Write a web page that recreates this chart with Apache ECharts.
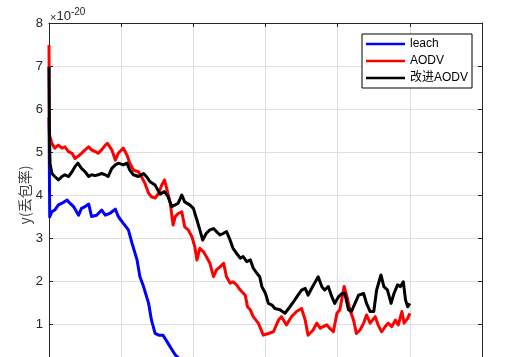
<!DOCTYPE html>
<html>
<head>
<meta charset="utf-8">
<script src="https://cdn.jsdelivr.net/npm/echarts@6/dist/echarts.min.js"></script>
<style>html,body{margin:0;padding:0;background:#fff;}#c{width:515px;height:357px;}</style>
</head>
<body>
<div id="c"></div>
<script>
var seriesNames = ['leach', 'AODV', '改进AODV'];
var yTicks = [0, 1, 2, 3, 4, 5, 6, 7, 8];
var leachData = [
  [0,5.8],[1,3.49],[4,3.61],[8,3.65],[13,3.77],[18,3.81],[25,3.88],[29,3.81],[34,3.73],[41,3.53],
  [45,3.69],[50,3.73],[55,3.79],[59,3.5],[66,3.53],[73,3.65],[78,3.53],[85,3.58],[92,3.67],[96,3.5],
  [103,3.34],[110,3.19],[115,2.88],[122,2.49],[126,2.1],[131,1.87],[138,1.48],[142,1.09],[147,0.78],
  [152,0.74],[158,0.74],[165,0.55],[175,0.28],[185,0.12],[200,0.06],[230,0.04],[300,0.03],[400,0.02],[500,0.02]
];
var aodvData = [
  [0,7.49],[0.5,5.44],[1.4,5.36],[4,5.2],[8,5.09],[13,5.16],[18,5.09],[22,5.12],[27,5.01],[32,4.97],
  [36,4.85],[41,4.91],[45,4.97],[50,5.05],[55,5.12],[59,5.05],[64,5.01],[68,4.97],[73,5.05],[78,5.16],
  [81,5.2],[87,5.05],[92,4.81],[96,4.97],[103,5.09],[108,4.93],[112,4.74],[117,4.58],[124,4.54],[128,4.43],
  [133,4.27],[138,4.04],[142,3.96],[147,3.93],[152,4.04],[156,4.22],[160,4.35],[163,4.16],[168,3.81],[172,3.3],
  [175,3.5],[179,3.57],[184,3.61],[188,3.26],[193,3.19],[198,3.03],[202,2.8],[205,2.49],[209,2.76],[214,2.68],
  [218,2.57],[223,2.41],[228,2.1],[232,2.26],[237,2.33],[242,2.41],[246,2.1],[251,1.95],[255,1.98],[260,1.91],
  [265,1.79],[272,1.67],[275,1.4],[279,1.33],[283,1.17],[290,1.02],[297,0.74],[304,0.78],[311,0.82],[318,1.09],
  [322,1.17],[329,0.98],[336,1.17],[343,1.29],[350,1.36],[355,1.09],[359,0.74],[366,0.86],[371,1.02],[376,0.9],
  [380,0.94],[385,0.98],[389,0.9],[394,0.82],[399,1.25],[403,1.33],[409,1.87],[413,1.63],[417,1.33],[422,1.09],
  [426,0.78],[431,0.86],[436,1.02],[440,1.21],[445,1.02],[452,1.17],[456,0.98],[461,0.82],[466,0.94],[470,1.02],
  [475,0.94],[480,1.09],[484,0.98],[489,1.29],[492,1.02],[497,1.13],[500,1.25]
];
var improvedData = [
  [0,6.98],[0.5,5.6],[1.4,4.74],[4,4.5],[8,4.43],[13,4.35],[18,4.43],[22,4.47],[27,4.43],[32,4.54],
  [36,4.66],[40,4.74],[45,4.62],[50,4.54],[55,4.43],[59,4.47],[64,4.45],[68,4.47],[73,4.5],[78,4.47],
  [82,4.43],[87,4.62],[92,4.7],[96,4.74],[103,4.7],[108,4.74],[112,4.58],[117,4.47],[124,4.43],[131,4.5],
  [135,4.43],[140,4.31],[147,4.23],[154,4.02],[160,4.08],[165,3.96],[170,3.73],[175,3.77],[179,3.81],[184,4.0],
  [188,3.84],[195,3.77],[200,3.69],[205,3.42],[209,3.19],[213,2.95],[218,3.11],[223,3.19],[228,3.22],[232,3.15],
  [237,3.07],[242,3.11],[246,3.15],[251,2.95],[255,2.76],[260,2.64],[265,2.53],[269,2.57],[274,2.45],[279,2.49],
  [283,2.3],[288,2.18],[292,2.1],[295,1.87],[300,1.71],[304,1.48],[309,1.44],[313,1.36],[320,1.33],[327,1.25],
  [332,1.36],[339,1.52],[345,1.67],[350,1.79],[355,1.83],[359,1.67],[364,1.83],[369,1.98],[373,2.1],[378,1.87],
  [382,1.79],[387,1.87],[392,1.63],[396,1.48],[401,1.63],[406,1.71],[410,1.71],[415,1.33],[419,1.29],[424,1.48],
  [429,1.67],[436,1.71],[440,1.48],[445,1.29],[450,1.29],[454,1.79],[460,2.14],[464,1.87],[469,1.79],[474,1.48],
  [478,1.71],[483,1.91],[487,1.87],[491,1.98],[494,1.56],[497,1.4],[500,1.48]
];

var chart = echarts.init(document.getElementById('c'), null, {renderer: 'canvas'});
var gridColor = '#dfdfdf';
var axisColor = '#262626';
var font = 'Liberation Sans, Arial, sans-serif';
function mkSeries(name, data, color) {
  return {
    name: name, type: 'line', data: data, symbol: 'none', showSymbol: false,
    lineStyle: {color: color, width: 3, join: 'round'}, itemStyle: {color: color},
    emphasis: {disabled: true}, animation: false, clip: true
  };
}
chart.setOption({
  animation: false,
  backgroundColor: '#ffffff',
  grid: {left: 49, width: 433, top: 23, height: 344, containLabel: false, outerBoundsMode: 'none'},
  legend: {
    orient: 'vertical', left: 362, top: 34,
    data: seriesNames.map(function (n) { return {name: n, icon: 'rect'}; }),
    itemWidth: 39, itemHeight: 2.5, itemGap: 3,
    padding: [3, 4, 3, 4],
    borderColor: '#000', borderWidth: 1, backgroundColor: '#fff',
    textStyle: {fontSize: 12, lineHeight: 14, color: '#000', fontFamily: 'Liberation Sans, Noto Sans CJK SC, sans-serif'},
    itemStyle: {borderWidth: 0}
  },
  xAxis: [{
    type: 'value', min: 0, max: 600, interval: 100, position: 'bottom',
    axisLine: {show: true, lineStyle: {color: axisColor}},
    axisTick: {show: true, inside: true, length: 4, lineStyle: {color: axisColor}},
    axisLabel: {show: false},
    splitLine: {show: true, lineStyle: {color: gridColor, width: 1}}
  }, {
    type: 'value', min: 0, max: 600, interval: 100, position: 'top',
    axisLine: {show: true, onZero: false, lineStyle: {color: axisColor}},
    axisTick: {show: true, inside: true, length: 4, lineStyle: {color: axisColor}},
    axisLabel: {show: false},
    splitLine: {show: false}
  }],
  yAxis: [{
    type: 'value', min: yTicks[0], max: yTicks[yTicks.length - 1], interval: 1, position: 'left',
    name: 'y(丢包率)', nameLocation: 'middle', nameGap: 17, nameMoveOverlap: false,
    nameTextStyle: {fontSize: 14, color: '#404040', fontFamily: 'Noto Sans CJK SC, Liberation Sans, sans-serif'},
    axisLine: {show: true, onZero: false, lineStyle: {color: axisColor}},
    axisTick: {show: true, inside: true, length: 4, lineStyle: {color: axisColor}},
    axisLabel: {show: true, fontSize: 13, color: axisColor, fontFamily: font, margin: 6},
    splitLine: {show: true, lineStyle: {color: gridColor, width: 1}}
  }, {
    type: 'value', min: yTicks[0], max: yTicks[yTicks.length - 1], interval: 1, position: 'right',
    axisLine: {show: true, onZero: false, lineStyle: {color: axisColor}},
    axisTick: {show: true, inside: true, length: 4, lineStyle: {color: axisColor}},
    axisLabel: {show: false},
    splitLine: {show: false}
  }],
  graphic: [{
    type: 'text', left: 50, top: 7,
    style: {
      text: '{a|×}{c|10}{b|-20}',
      rich: {
        a: {fontSize: 11, fontFamily: font, fill: axisColor, verticalAlign: 'bottom', lineHeight: 16},
        c: {fontSize: 13, fontFamily: font, fill: axisColor, verticalAlign: 'bottom', lineHeight: 16},
        b: {fontSize: 10, fontFamily: font, fill: axisColor, verticalAlign: 'top', lineHeight: 16, padding: [0,0,8,0]}
      }
    }
  }],
  series: [
    mkSeries(seriesNames[0], leachData, '#0000ff'),
    mkSeries(seriesNames[1], aodvData, '#ff0000'),
    mkSeries(seriesNames[2], improvedData, '#000000')
  ]
});
</script>
</body>
</html>
